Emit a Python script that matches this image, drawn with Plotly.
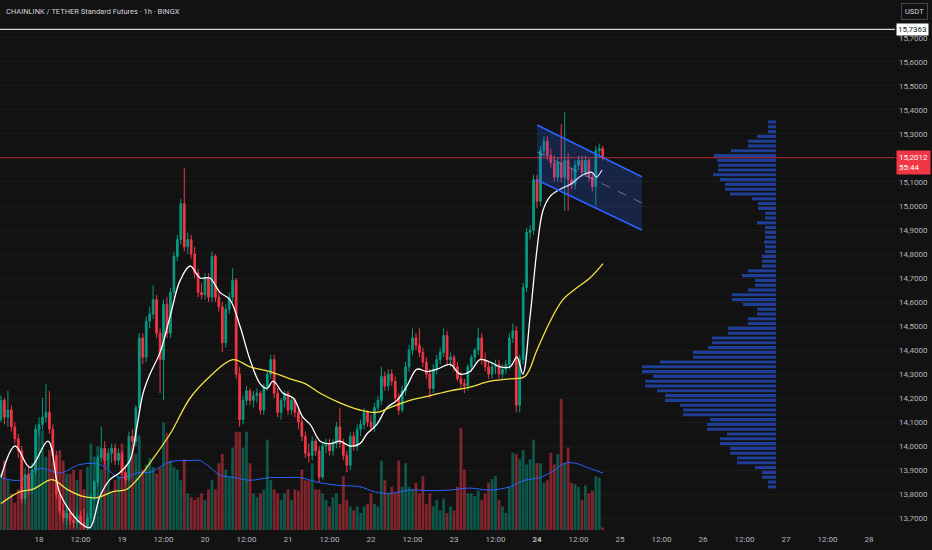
import pandas as pd
import plotly.graph_objects as go

START = "2025-03-17 13:00"

# hourly candles, 17th 13:00 -> 24th 19:00
opens = [
    14.11, 14.19, 14.12, 14.15, 14.08, 14.03, 13.98, 13.78, 13.88, 13.82,
    13.90, 14.07, 14.09, 14.12, 14.14, 14.07, 13.96, 13.80, 13.73, 13.70,
    13.72, 13.69, 13.68, 13.71, 13.68, 13.66, 13.70, 13.79, 13.85, 13.95,
    13.99, 13.94, 13.97, 13.99, 13.94, 13.97, 13.89, 13.86, 14.04, 14.02,
    14.16, 14.45, 14.37, 14.52, 14.55, 14.61, 14.47, 14.36, 14.59, 14.47,
    14.64, 14.79, 14.86, 15.01, 14.83, 14.86, 14.80, 14.72, 14.64, 14.63,
    14.70, 14.62, 14.79, 14.62, 14.58, 14.43, 14.57, 14.62, 14.69, 14.30,
    14.11, 14.19, 14.23, 14.19, 14.21, 14.22, 14.15, 14.25, 14.30, 14.36,
    14.22, 14.14, 14.19, 14.22, 14.15, 14.19, 14.14, 14.10, 14.04, 13.97,
    13.96, 14.02, 13.98, 13.87, 14.00, 14.01, 13.98, 14.01, 14.08, 14.01,
    13.96, 13.92, 14.04, 14.00, 14.07, 14.09, 14.14, 14.10, 14.08, 14.16,
    14.19, 14.29, 14.25, 14.30, 14.27, 14.20, 14.15, 14.23, 14.33, 14.40,
    14.45, 14.42, 14.39, 14.35, 14.30, 14.24, 14.32, 14.36, 14.39, 14.46,
    14.36, 14.37, 14.33, 14.28, 14.26, 14.25, 14.33, 14.37, 14.40, 14.45,
    14.36, 14.33, 14.30, 14.33, 14.34, 14.30, 14.32, 14.34, 14.45, 14.48,
    14.17, 14.36, 14.66, 14.89, 14.90, 15.11, 15.02, 15.23, 15.27, 15.21,
    15.18, 15.12, 15.18, 15.12, 15.19, 15.11, 15.09, 15.17, 15.19, 15.14,
    15.19, 15.12, 15.08, 15.23, 15.24,
]
highs = [
    14.21, 14.20, 14.23, 14.17, 14.10, 14.05, 14.00, 13.91, 13.92, 13.93,
    14.09, 14.12, 14.20, 14.26, 14.23, 14.09, 13.98, 13.82, 13.76, 13.75,
    13.74, 13.72, 13.73, 13.73, 13.74, 13.72, 13.80, 13.86, 13.96, 14.08,
    14.02, 13.99, 14.01, 14.01, 13.99, 13.98, 13.92, 14.06, 14.07, 14.17,
    14.47, 14.47, 14.54, 14.58, 14.67, 14.63, 14.49, 14.61, 14.62, 14.66,
    14.81, 14.88, 15.03, 15.16, 14.89, 14.88, 14.83, 14.74, 14.68, 14.72,
    14.72, 14.81, 14.80, 14.64, 14.60, 14.59, 14.64, 14.74, 14.70, 14.33,
    14.21, 14.25, 14.24, 14.23, 14.24, 14.23, 14.26, 14.31, 14.38, 14.38,
    14.24, 14.20, 14.23, 14.23, 14.20, 14.20, 14.16, 14.12, 14.06, 14.01,
    14.04, 14.03, 14.00, 14.01, 14.03, 14.03, 14.03, 14.10, 14.16, 14.03,
    13.98, 14.06, 14.06, 14.09, 14.11, 14.16, 14.15, 14.13, 14.18, 14.21,
    14.33, 14.31, 14.32, 14.32, 14.29, 14.22, 14.25, 14.35, 14.42, 14.49,
    14.47, 14.49, 14.41, 14.37, 14.32, 14.34, 14.38, 14.41, 14.49, 14.48,
    14.39, 14.38, 14.35, 14.31, 14.28, 14.34, 14.38, 14.41, 14.49, 14.47,
    14.39, 14.35, 14.35, 14.36, 14.36, 14.34, 14.36, 14.47, 14.51, 14.50,
    14.38, 14.68, 14.91, 14.92, 15.13, 15.13, 15.25, 15.29, 15.29, 15.24,
    15.21, 15.20, 15.34, 15.39, 15.22, 15.16, 15.19, 15.21, 15.21, 15.21,
    15.20, 15.14, 15.25, 15.26, 15.25,
]
lows = [
    14.10, 14.09, 14.08, 14.06, 14.01, 13.95, 13.76, 13.76, 13.80, 13.80,
    13.88, 14.04, 14.07, 14.10, 14.05, 13.94, 13.78, 13.71, 13.68, 13.67,
    13.67, 13.66, 13.66, 13.67, 13.65, 13.64, 13.68, 13.77, 13.83, 13.93,
    13.92, 13.91, 13.93, 13.92, 13.92, 13.88, 13.84, 13.85, 14.00, 14.00,
    14.14, 14.34, 14.35, 14.49, 14.53, 14.45, 14.22, 14.19, 14.45, 14.45,
    14.62, 14.77, 14.84, 14.81, 14.80, 14.78, 14.70, 14.62, 14.61, 14.61,
    14.60, 14.60, 14.60, 14.56, 14.39, 14.41, 14.55, 14.60, 14.28, 14.08,
    14.09, 14.17, 14.17, 14.16, 14.18, 14.13, 14.13, 14.23, 14.28, 14.20,
    14.12, 14.11, 14.16, 14.13, 14.13, 14.12, 14.07, 14.02, 13.95, 13.93,
    13.94, 13.96, 13.85, 13.86, 13.97, 13.96, 13.96, 13.99, 13.99, 13.94,
    13.89, 13.90, 13.98, 13.98, 14.04, 14.07, 14.08, 14.06, 14.06, 14.14,
    14.17, 14.23, 14.23, 14.25, 14.18, 14.13, 14.14, 14.21, 14.31, 14.38,
    14.40, 14.37, 14.33, 14.28, 14.20, 14.22, 14.30, 14.34, 14.37, 14.34,
    14.33, 14.31, 14.27, 14.24, 14.22, 14.23, 14.31, 14.35, 14.38, 14.34,
    14.31, 14.28, 14.28, 14.30, 14.28, 14.28, 14.30, 14.32, 14.43, 14.14,
    14.14, 14.34, 14.64, 14.86, 14.88, 14.99, 15.00, 15.21, 15.19, 15.16,
    15.10, 15.10, 15.10, 14.98, 14.98, 15.07, 15.07, 15.15, 15.12, 15.12,
    15.10, 15.06, 15.00, 15.20, 15.19,
]
closes = [
    14.19, 14.12, 14.15, 14.08, 14.03, 13.98, 13.78, 13.88, 13.82, 13.90,
    14.07, 14.09, 14.12, 14.14, 14.07, 13.96, 13.80, 13.73, 13.70, 13.72,
    13.69, 13.68, 13.71, 13.68, 13.66, 13.70, 13.79, 13.85, 13.95, 13.99,
    13.94, 13.97, 13.99, 13.94, 13.97, 13.89, 13.86, 14.04, 14.02, 14.16,
    14.45, 14.37, 14.52, 14.55, 14.61, 14.47, 14.36, 14.59, 14.47, 14.64,
    14.79, 14.86, 15.01, 14.83, 14.86, 14.80, 14.72, 14.64, 14.63, 14.70,
    14.62, 14.79, 14.62, 14.58, 14.43, 14.57, 14.62, 14.69, 14.30, 14.11,
    14.19, 14.23, 14.19, 14.21, 14.22, 14.15, 14.25, 14.30, 14.36, 14.22,
    14.14, 14.19, 14.22, 14.15, 14.19, 14.14, 14.10, 14.04, 13.97, 13.96,
    14.02, 13.98, 13.87, 14.00, 14.01, 13.98, 14.01, 14.08, 14.01, 13.96,
    13.92, 14.04, 14.00, 14.07, 14.09, 14.14, 14.10, 14.08, 14.16, 14.19,
    14.29, 14.25, 14.30, 14.27, 14.20, 14.15, 14.23, 14.33, 14.40, 14.45,
    14.42, 14.39, 14.35, 14.30, 14.24, 14.32, 14.36, 14.39, 14.46, 14.36,
    14.37, 14.33, 14.28, 14.26, 14.25, 14.33, 14.37, 14.40, 14.45, 14.36,
    14.33, 14.30, 14.33, 14.34, 14.30, 14.32, 14.34, 14.45, 14.48, 14.17,
    14.36, 14.66, 14.89, 14.90, 15.11, 15.02, 15.23, 15.27, 15.21, 15.18,
    15.12, 15.18, 15.12, 15.19, 15.11, 15.09, 15.17, 15.19, 15.14, 15.19,
    15.12, 15.08, 15.23, 15.24, 15.2012,
]
volumes = [
    43, 53, 38, 28, 21, 31, 61, 28, 43, 46, 53, 79, 76, 56, 61, 53, 38, 61,
    53, 43, 43, 46, 38, 46, 31, 48, 66,
    56, 64, 46, 61, 53, 28, 38, 41, 66, 43, 64, 64, 58, 72, 46, 50, 55, 48,
    43, 48, 82, 74, 53, 48, 46, 38, 54, 28,
    25, 23, 25, 28, 23, 31, 38, 31, 51, 58,
    46, 41, 63, 75, 75, 63, 75, 51, 28, 25,
    28, 31, 69, 38, 31, 28, 23, 28, 31, 23,
    31, 30, 46,
    38, 38, 51, 31, 31, 28, 23, 18, 25, 28,
    20, 41, 23, 18, 15, 18, 13, 18, 20, 28,
    20, 18, 53, 38, 28, 33, 28, 53, 33, 51,
    33, 31, 36, 28, 41, 20, 28, 18, 23, 15,
    24, 13, 18, 15,
    33, 78, 46, 28, 28, 26, 30, 23, 28, 36,
    39, 41, 23, 18, 13, 33, 59, 58, 54, 61,
    50, 54, 69, 51, 51, 36, 38, 59, 50, 58,
    100, 51, 63, 36, 35, 33, 23, 34, 28, 30,
    41, 40, 2,
]

# fast EMA (white): hours after START, price
fast_hours = [0, 4.1, 8.4, 13.6, 17.1, 22.9, 25.7, 28.6, 31.5, 34.4, 37.3, 39.3, 41.1,
              43.1, 46.0, 48.9, 51.8, 54.7, 57.6, 60.4, 63.3, 66.2, 69.1, 72.0, 74.9,
              76.9, 78.7, 81.6, 84.5, 87.3, 89.4, 92.3, 95.2, 98.0, 101.0, 103.8,
              105.8, 108.7, 111.6, 114.5, 117.4, 120.3, 123.2, 126.1, 129.9, 132.7,
              135.6, 138.5, 141.4, 144.3, 147.2, 149.2, 150.9, 153.0, 155.0, 156.7,
              158.8, 161.7, 164.6, 168.3, 170.9, 172.1, 173.8]
fast_ema = [13.87, 14.00, 13.91, 14.02, 13.80, 13.68, 13.66, 13.79, 13.86, 13.89, 13.94,
            14.08, 14.22, 14.30, 14.39, 14.54, 14.69, 14.75, 14.70, 14.70, 14.64, 14.61,
            14.50, 14.36, 14.26, 14.24, 14.27, 14.22, 14.20, 14.12, 14.09, 14.02, 14.01,
            14.02, 14.00, 14.01, 14.05, 14.09, 14.16, 14.19, 14.25, 14.32, 14.31, 14.32,
            14.34, 14.30, 14.31, 14.36, 14.35, 14.33, 14.33, 14.37, 14.30, 14.54, 14.82,
            14.98, 15.04, 15.07, 15.09, 15.13, 15.14, 15.12, 15.15]

# slow EMA (yellow)
slow_hours = [0, 5.5, 9.3, 14.8, 19.1, 23.7, 27.8, 32.4, 36.4, 41.1, 43.1, 48.9, 54.7,
              60.4, 67.1, 72.0, 77.8, 83.6, 87.9, 92.3, 98.0, 103.8, 108.7, 112.5,
              118.3, 124.1, 129.9, 135.6, 141.4, 147.2, 151.5, 155.0, 158.8, 162.5,
              166.6, 170.3, 174.1]
slow_ema = [13.76, 13.81, 13.82, 13.86, 13.82, 13.79, 13.785, 13.81, 13.82, 13.89, 13.93,
            14.05, 14.20, 14.29, 14.36, 14.33, 14.31, 14.28, 14.26, 14.22, 14.18, 14.15,
            14.14, 14.16, 14.19, 14.21, 14.23, 14.245, 14.27, 14.28, 14.29, 14.40, 14.52,
            14.61, 14.66, 14.70, 14.76]

# volume moving average (blue)
vol_ma_hours = [0, 5.5, 11.3, 17.1, 22.9, 28.6, 34.4, 40.2, 43.1, 48.9, 54.7, 57.6, 60.4,
                63.3, 67.7, 72.0, 77.8, 82.1, 86.5, 92.3, 98.0, 103.8, 108.2, 112.5,
                118.3, 124.1, 129.9, 135.6, 141.4, 147.2, 151.5, 155.9, 160.2, 163.1,
                166.0, 170.3, 174.1]
vol_ma = [40, 38, 47, 43.5, 50, 50, 40, 44, 44, 52, 53, 53, 48, 42, 40, 38, 40, 40, 40,
          36, 34, 33, 29, 28, 30.5, 30, 30.5, 32, 30.5, 33, 38, 40, 46, 51, 51, 47, 43.5]

# visible range volume profile
profile_prices = [
    15.35, 15.33, 15.31, 15.29, 15.27, 15.25, 15.23, 15.21, 15.19, 15.17,
    15.15, 15.13, 15.11, 15.09, 15.07, 15.05, 15.03, 15.01, 14.99, 14.97,
    14.95, 14.93, 14.91, 14.89, 14.87, 14.85, 14.83, 14.81, 14.79, 14.77,
    14.75, 14.73, 14.71, 14.69, 14.67, 14.65, 14.63, 14.61, 14.59, 14.57,
    14.55, 14.53, 14.51, 14.49, 14.47, 14.45, 14.43, 14.41, 14.39, 14.37,
    14.35, 14.33, 14.31, 14.29, 14.27, 14.25, 14.23, 14.21, 14.19, 14.17,
    14.15, 14.13, 14.11, 14.09, 14.07, 14.05, 14.03, 14.01, 13.99, 13.97,
    13.95, 13.93, 13.91, 13.89, 13.87, 13.85, 13.83,
]
profile_volume = [
    8, 8, 8, 19, 28, 28, 45, 62, 59, 58,
    58, 63, 56, 51, 51, 46, 24, 18, 18, 11,
    11, 19, 11, 11, 11, 12, 11, 11, 14, 14,
    14, 28, 34, 21, 21, 28, 44, 44, 33, 19,
    19, 28, 28, 48, 48, 64, 64, 68, 83, 83,
    116, 134, 134, 123, 131, 131, 119, 111, 111, 96,
    93, 93, 66, 69, 69, 49, 56, 56, 46, 46,
    39, 39, 21, 14, 14, 8, 8,
]

# parallel channel drawing
channel_times = ["2025-03-24 00:00", "2025-03-25 06:18"]
channel_upper = [15.3375, 15.122]
channel_lower = [15.108, 14.900]
channel_mid = [15.225, 15.013]

MARKED_PRICE = 15.7363
LAST_PRICE = 15.2012
COUNTDOWN = "55:44"

# 15,2000 sits under the last-price label in the original, so it is left out
price_ticks = [13.7, 13.8, 13.9, 14.0, 14.1, 14.2, 14.3, 14.4, 14.5, 14.6, 14.7,
               14.8, 14.9, 15.0, 15.1, 15.3, 15.4, 15.5, 15.6, 15.7]
tick_times = ["2025-03-18 00:00", "2025-03-18 12:00", "2025-03-19 00:00", "2025-03-19 12:00",
              "2025-03-20 00:00", "2025-03-20 12:00", "2025-03-21 00:00", "2025-03-21 12:00",
              "2025-03-22 00:00", "2025-03-22 12:00", "2025-03-23 00:00", "2025-03-23 12:00",
              "2025-03-24 00:00", "2025-03-24 12:00", "2025-03-25 00:00", "2025-03-25 12:00",
              "2025-03-26 00:00", "2025-03-26 12:00", "2025-03-27 00:00", "2025-03-27 12:00",
              "2025-03-28 00:00"]
tick_labels = ["18", "12:00", "19", "12:00", "20", "12:00", "21", "12:00", "22", "12:00",
               "23", "12:00", "<b>24</b>", "12:00", "25", "12:00", "26", "12:00", "27",
               "12:00", "28"]

UP = "#089981"
DOWN = "#F23645"
BG = "#121212"
TEXT = "#b2b5be"
FONT = "Roboto"

start = pd.Timestamp(START)
times = pd.date_range(START, periods=len(closes), freq="h")
fast_t = start + pd.to_timedelta(fast_hours, unit="h")
slow_t = start + pd.to_timedelta(slow_hours, unit="h")
vol_ma_t = start + pd.to_timedelta(vol_ma_hours, unit="h")
vol_colors = ["rgba(8,153,129,0.5)" if c >= o else "rgba(242,54,69,0.5)" for o, c in zip(opens, closes)]

fig = go.Figure()

fig.add_trace(go.Bar(x=times, y=volumes, marker=dict(color=vol_colors, line=dict(width=0)),
                     width=3600000 * 0.82, xaxis="x", yaxis="y", hoverinfo="skip"))
fig.add_trace(go.Scatter(x=vol_ma_t, y=vol_ma, mode="lines", line=dict(color="#2962FF", width=1, shape="spline"),
                         xaxis="x", yaxis="y", hoverinfo="skip"))

fig.add_trace(go.Candlestick(
    x=times, open=opens, high=highs, low=lows, close=closes,
    increasing=dict(line=dict(color=UP, width=1), fillcolor=UP),
    decreasing=dict(line=dict(color=DOWN, width=1), fillcolor=DOWN),
    whiskerwidth=0, xaxis="x", yaxis="y2", name="LINKUSDT",
))
fig.add_trace(go.Scatter(x=fast_t, y=fast_ema, mode="lines", line=dict(color="#ffffff", width=1.3, shape="spline"),
                         xaxis="x", yaxis="y2", hoverinfo="skip"))
fig.add_trace(go.Scatter(x=slow_t, y=slow_ema, mode="lines", line=dict(color="#f5e342", width=1.3, shape="spline"),
                         xaxis="x", yaxis="y2", hoverinfo="skip"))

# channel: fill, then borders and dashed median
fig.add_trace(go.Scatter(
    x=[channel_times[0], channel_times[1], channel_times[1], channel_times[0], channel_times[0]],
    y=[channel_upper[0], channel_upper[1], channel_lower[1], channel_lower[0], channel_upper[0]],
    mode="lines", fill="toself", fillcolor="rgba(41,98,255,0.22)", line=dict(width=0),
    xaxis="x", yaxis="y2", hoverinfo="skip",
))
for ys in (channel_upper, channel_lower):
    fig.add_trace(go.Scatter(x=channel_times, y=ys, mode="lines", line=dict(color="#2962FF", width=1.6),
                             xaxis="x", yaxis="y2", hoverinfo="skip"))
fig.add_trace(go.Scatter(x=channel_times, y=channel_mid, mode="lines",
                         line=dict(color="rgba(170,180,210,0.55)", width=1, dash="dash"),
                         xaxis="x", yaxis="y2", hoverinfo="skip"))

fig.add_trace(go.Bar(y=profile_prices, x=profile_volume, orientation="h", width=0.013,
                     marker=dict(color="rgba(41,90,230,0.62)", line=dict(width=0)),
                     xaxis="x2", yaxis="y2", hoverinfo="skip"))

fig.add_shape(type="line", xref="paper", x0=0, x1=1, yref="y2", y0=MARKED_PRICE, y1=MARKED_PRICE,
              line=dict(color="#d1d4dc", width=1.2))
fig.add_shape(type="line", xref="paper", x0=0, x1=1, yref="y2", y0=LAST_PRICE, y1=LAST_PRICE,
              line=dict(color="rgba(242,54,69,0.7)", width=1))

fig.add_annotation(xref="paper", x=0.004, yref="paper", y=1, yshift=-5, xanchor="left", yanchor="top",
                   text="CHAINLINK / TETHER Standard Futures · 1h · BINGX", showarrow=False,
                   font=dict(family=FONT, size=7.5, color="#d1d4dc"))
fig.add_annotation(xref="paper", x=1, xshift=1, yref="y2", y=MARKED_PRICE, xanchor="left", yanchor="middle",
                   text="15,7363", showarrow=False, bgcolor="#ffffff", borderpad=1,
                   font=dict(family=FONT, size=8, color="#131722"))
fig.add_annotation(xref="paper", x=1, xshift=1, yref="y2", y=LAST_PRICE, yshift=8, xanchor="left", yanchor="top",
                   text=f"15,2012<br>{COUNTDOWN}", showarrow=False, bgcolor=DOWN, borderpad=2, align="left",
                   font=dict(family=FONT, size=8, color="#ffffff"))
fig.add_annotation(xref="paper", x=1, xshift=6, yref="paper", y=1, yshift=-3, xanchor="left", yanchor="top",
                   text="USDT", showarrow=False, bordercolor="#434651", borderwidth=1, borderpad=3,
                   font=dict(family=FONT, size=7.5, color="#d1d4dc"))

fig.update_layout(
    width=932, height=550,
    margin=dict(l=0, r=37, t=0, b=20),
    paper_bgcolor=BG, plot_bgcolor=BG,
    separators=",.",
    showlegend=False,
    bargap=0.1,
    font=dict(family=FONT, size=8, color=TEXT),
    xaxis=dict(type="date", range=["2025-03-17 12:43", "2025-03-28 07:31"],
               tickvals=tick_times, ticktext=tick_labels, tickfont=dict(size=8, color=TEXT),
               ticklabelstandoff=3,
               showgrid=False, zeroline=False, showline=False, ticks="",
               rangeslider=dict(visible=False), fixedrange=True),
    xaxis2=dict(overlaying="x", anchor="y2", range=[776, -119], visible=False, fixedrange=True),
    yaxis=dict(range=[0, 404.6], visible=False, fixedrange=True),
    yaxis2=dict(overlaying="y", side="right", anchor="x", range=[13.65, 15.8583],
                tickmode="array", tickvals=price_ticks, ticklabelstandoff=3,
                tickformat=".4f", tickfont=dict(size=8, color=TEXT), showgrid=True,
                gridcolor="#1b1b1b", gridwidth=1, zeroline=False, showline=False, ticks="",
                fixedrange=True),
)

fig.write_html("out.html", config={"displayModeBar": False},
               post_script="document.body.style.margin='0';")
